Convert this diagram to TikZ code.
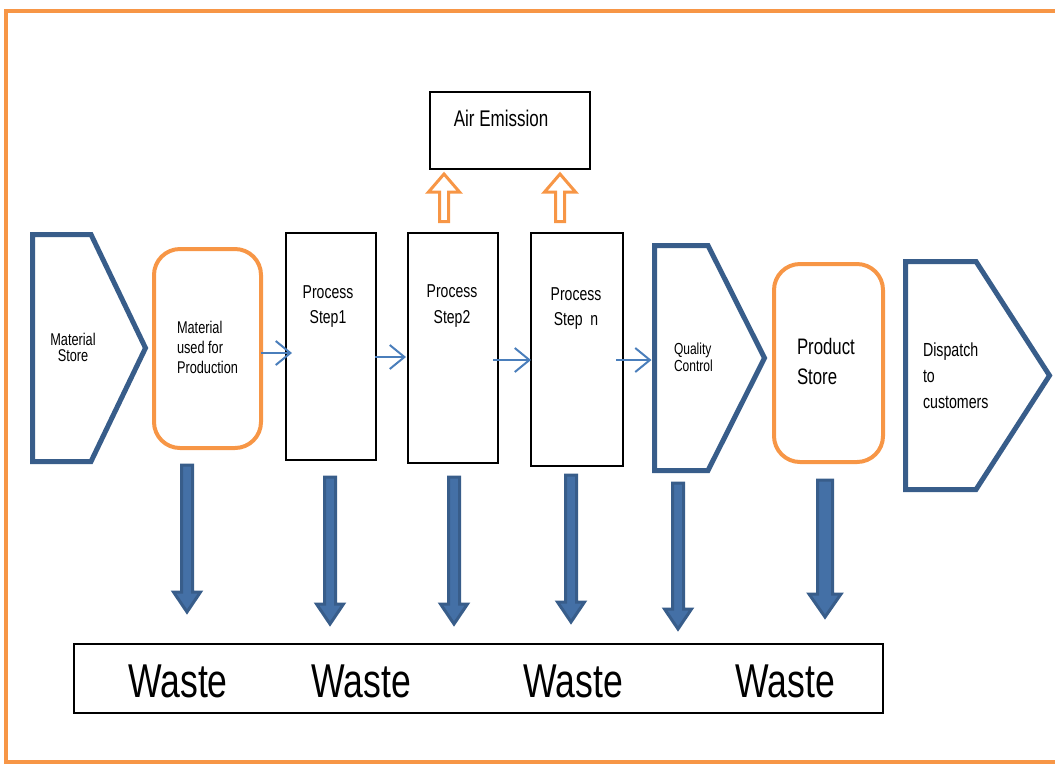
\documentclass[tikz,border=0pt]{standalone}
\usepackage{fontspec}
\setmainfont{Liberation Sans}
\newfontfamily\condsans[FakeStretch=0.75]{Liberation Sans}
\usetikzlibrary{arrows.meta,calc}

\newdimen\pxu \pxu=0.75pt
\newcommand\fsz[2]{\condsans\fontsize{#1}{#2}\selectfont}

\definecolor{frameorange}{HTML}{F79646}
\definecolor{shapeblue}{HTML}{385D8A}
\definecolor{flowblue}{HTML}{4A7EBB}
\definecolor{wasteedge}{HTML}{385D8A}
\definecolor{wastefill}{HTML}{4470A6}

% block arrow pointing down: top point, length to tip, half shaft, half head, head length
\newcommand\blockdown[5]{%
  \filldraw[wastearrow] ($(#1)+(-#3,0)$) -- ($(#1)+(#3,0)$) -- ($(#1)+(#3,#2-#5)$)
    -- ($(#1)+(#4,#2-#5)$) -- ($(#1)+(0,#2)$) -- ($(#1)+(-#4,#2-#5)$)
    -- ($(#1)+(-#3,#2-#5)$) -- cycle;}
% hollow block arrow pointing up from a base point
\newcommand\hollowup[1]{%
  \draw[emit] ($(#1)+(-4.5,0)$) -- ($(#1)+(-4.5,-29.5)$) -- ($(#1)+(-15.5,-29.5)$)
    -- ($(#1)+(0,-47.5)$) -- ($(#1)+(15.5,-29.5)$) -- ($(#1)+(4.5,-29.5)$)
    -- ($(#1)+(4.5,0)$) -- cycle;}

\begin{document}
\begin{tikzpicture}[x=0.75pt,y=-0.75pt,
  frame/.style={inner sep=0pt, outer sep=0pt, draw=none},
  box/.style={draw=black, line width=1.5\pxu, inner sep=0pt, outer sep=0pt},
  store/.style={draw=frameorange, line width=4\pxu, rounded corners=26\pxu,
                inner sep=0pt, outer sep=0pt},
  pent/.style={draw=shapeblue, line width=5\pxu, line join=miter},
  flow/.style={draw=flowblue, line width=2\pxu,
               -{Straight Barb[length=11pt,width=18pt]}},
  wastearrow/.style={fill=wastefill, draw=wasteedge, line width=3\pxu, line join=miter},
  emit/.style={draw=frameorange, line width=3\pxu, fill=white, line join=miter},
  lbl/.style={inner sep=0pt, outer sep=0pt, text=black}]

\useasboundingbox (0,0) rectangle (1055,765);
\clip (0,0) rectangle (1055,765);

% outer frame
\draw[frameorange, line width=4\pxu] (6,11) rectangle (1075,762);

% material store
\node[frame, minimum width=113\pxu, minimum height=227\pxu] (ms) at (89,348) {};
\draw[pent] (ms.north west) -- ($(ms.north east)+(-54.5,0)$) -- (ms.east)
  -- ($(ms.south east)+(-54.5,0)$) -- (ms.south west) -- cycle;
\node[lbl, align=center, font=\fsz{12.75pt}{12pt}] (mst) at ($(ms.center)+(-16,-1)$) {Material\\Store};

% material used for production
\node[store, minimum width=107\pxu, minimum height=199\pxu] (mu) at (207.5,348.5) {};
\node[lbl, align=left, anchor=west, font=\fsz{12.75pt}{15pt}] (mut) at ($(mu.west)+(23,-1.5)$) {Material\\used for\\Production};

% process steps
\node[box, minimum width=90\pxu, minimum height=227\pxu] (s1) at (331,346.5) {};
\node[lbl, align=center, font=\fsz{14pt}{19pt}] (s1t) at ($(s1.center)+(-3,-40)$) {Process\\Step1};
\node[box, minimum width=90\pxu, minimum height=230\pxu] (s2) at (453,348) {};
\node[lbl, align=center, font=\fsz{14pt}{19pt}] (s2t) at ($(s2.center)+(-1,-42)$) {Process\\Step2};
\node[box, minimum width=92\pxu, minimum height=233\pxu] (sn) at (577,349.5) {};
\node[lbl, align=center, font=\fsz{14pt}{19pt}] (snt) at ($(sn.center)+(-1,-41)$) {Process\\Step\ \ n};

% air emission
\node[box, minimum width=160\pxu, minimum height=77\pxu] (air) at (510,130.5) {};
\node[lbl, font=\fsz{17pt}{20pt}] (airt) at ($(air.center)+(-9,-12.5)$) {Air Emission};
\coordinate (e1) at (444,221.5);
\coordinate (e2) at (560,221.5);
\hollowup{e1}
\hollowup{e2}

% quality control
\node[frame, minimum width=110\pxu, minimum height=225\pxu] (qc) at (709.5,358) {};
\draw[pent] (qc.north west) -- ($(qc.north east)+(-56.5,0)$) -- (qc.east)
  -- ($(qc.south east)+(-56.5,0)$) -- (qc.south west) -- cycle;
\node[lbl, align=left, anchor=west, font=\fsz{12pt}{12.75pt}] (qct) at ($(qc.west)+(19.5,-1)$) {Quality\\Control};

% product store
\node[store, minimum width=109\pxu, minimum height=198\pxu] (ps) at (828.5,363) {};
\node[lbl, align=left, anchor=west, font=\fsz{16.8pt}{22.5pt}] (pst) at ($(ps.west)+(23,-2)$) {Product\\Store};

% dispatch
\node[frame, minimum width=144\pxu, minimum height=228\pxu] (ds) at (977.5,375.5) {};
\draw[pent] (ds.north west) -- ($(ds.north east)+(-73.5,0)$) -- (ds.east)
  -- ($(ds.south east)+(-73.5,0)$) -- (ds.south west) -- cycle;
\node[lbl, align=left, anchor=west, font=\fsz{14.2pt}{19.5pt}] (dst) at ($(ds.west)+(17.5,0.5)$) {Dispatch\\to\\customers};

% flow between stages
\draw[flow] ($(mu.east)+(0,4.5)$) -- ($(s1.west)+(6,6.5)$);
\draw[flow] ($(s1.east)+(-1,10.5)$) -- ($(s2.west)+(-2,9)$);
\draw[flow] ($(s2.east)+(-5,12)$) -- ($(sn.west)+(0,10.5)$);
\draw[flow] ($(sn.east)+(-7,10.5)$) -- ($(qc.west)+(-3,2)$);

% waste collection
\node[box, line width=2\pxu, minimum width=809.5\pxu, minimum height=69.5\pxu] (waste) at (478.5,678.5) {};
\foreach \wx/\wn in {104.25/w1, 287.25/w2, 499.25/w3, 711.25/w4}
  \node[lbl, anchor=base, font=\fsz{35.6pt}{40pt}] (\wn) at ($(waste.south west)+(\wx,-16.25)$) {Waste};

\coordinate (d1) at (187,465);
\coordinate (d2) at (330,477);
\coordinate (d3) at (454,477);
\coordinate (d4) at (571,475);
\coordinate (d5) at (678,483);
\coordinate (d6) at (825,480);
\blockdown{d1}{147}{5.5}{13.5}{20}
\blockdown{d2}{147}{5.5}{13.5}{20}
\blockdown{d3}{147}{5.5}{13.5}{20}
\blockdown{d4}{147}{5.5}{13.5}{20}
\blockdown{d5}{146}{5.5}{13.5}{20}
\blockdown{d6}{137}{7.5}{16}{23}
\end{tikzpicture}
\end{document}
